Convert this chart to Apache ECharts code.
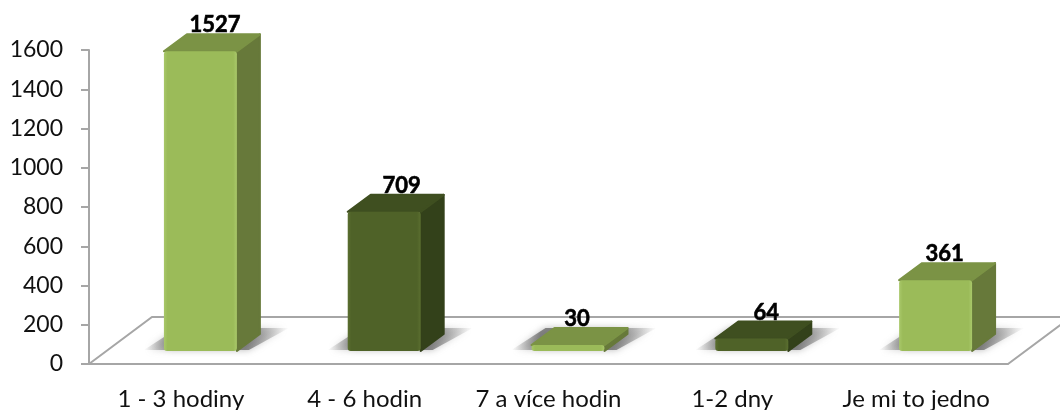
<!DOCTYPE html>
<html>
<head>
    <meta charset="utf-8">
    <title>ECharts</title>
    <script src="https://cdn.jsdelivr.net/npm/echarts@6/dist/echarts.min.js"></script>
    <style>
        html, body { margin: 0; padding: 0; background: #fff; }
    </style>
</head>
<body>
    <div id="main" style="width: 1060px;height:410px;"></div>
    <script type="text/javascript">
        var categories = ['1 - 3 hodiny', '4 - 6 hodin', '7 a více hodin', '1-2 dny', 'Je mi to jedno'];
        var values = [1527, 709, 30, 64, 361];
        var yTicks = [0, 200, 400, 600, 800, 1000, 1200, 1400, 1600];

        // light / dark alternate along the bars
        var palette = [
            { front: '#9bbb59', frontEdge: '#a9c86a', top: '#7b9345', side: '#67793a' },
            { front: '#4f6228', frontEdge: '#5b6f30', top: '#3f4f20', side: '#33411a' }
        ];
        var FONT = 'Lato';
        var DEPTH_X = 23, DEPTH_Y = 17;   // 3d slant of a bar
        var LIFT = 13, SHIFT = 19.5;      // bars stand in the middle of the floor
        var FLOOR_X = 63, FLOOR_Y = 47;
        var labelDx = [34, 37, 28.5, 34, 28.5];   // labels don't sit quite the same on each bar

        function renderFloor(params, api) {
            var c = params.coordSys;
            var bottom = c.y + c.height, right = c.x + c.width;
            return {
                type: 'polyline',
                silent: true,
                shape: {
                    points: [
                        [c.x, bottom],
                        [c.x + FLOOR_X, bottom - FLOOR_Y],
                        [right + FLOOR_X, bottom - FLOOR_Y],
                        [right, bottom]
                    ]
                },
                style: { fill: null, stroke: '#a6a6a6', lineWidth: 2 }
            };
        }

        function renderBar(params, api) {
            var p = api.coord([api.value(0), api.value(1)]);
            var base = api.coord([api.value(0), 0]);
            var w = api.size([1, 0])[0] * 0.397;
            var col = palette[params.dataIndex % 2];
            var l = p[0] + SHIFT - w / 2, r = l + w;
            var t = p[1] - LIFT, b = base[1] - LIFT;
            var dx = DEPTH_X, dy = DEPTH_Y;
            return {
                type: 'group',
                children: [
                    {
                        // soft floor shadow, faded at both ends
                        type: 'polygon',
                        shape: { points: [[l - 20, b - 1], [r + 12, b - 1], [r + 52, b - 23], [l + 14, b - 23]] },
                        style: {
                            fill: new echarts.graphic.LinearGradient(0, 0, 1, 0, [
                                { offset: 0, color: 'rgba(100,100,100,0)' },
                                { offset: 0.2, color: 'rgba(100,100,100,0.75)' },
                                { offset: 0.7, color: 'rgba(100,100,100,0.75)' },
                                { offset: 1, color: 'rgba(100,100,100,0)' }
                            ]),
                            shadowBlur: 7,
                            shadowColor: 'rgba(100,100,100,0.6)'
                        }
                    },
                    {
                        type: 'polygon',
                        shape: { points: [[r, t], [r + dx, t - dy], [r + dx, b - dy], [r, b]] },
                        style: { fill: col.side, stroke: col.side, lineWidth: 2, lineJoin: 'round' }
                    },
                    {
                        type: 'polygon',
                        shape: { points: [[l, t], [l + dx, t - dy], [r + dx, t - dy], [r, t]] },
                        style: { fill: col.top, stroke: col.top, lineWidth: 2, lineJoin: 'round' }
                    },
                    {
                        type: 'rect',
                        shape: { x: l, y: t, width: w, height: b - t, r: 3 },
                        style: {
                            fill: new echarts.graphic.LinearGradient(0, 0, 1, 0, [
                                { offset: 0, color: col.frontEdge },
                                { offset: 0.05, color: col.front },
                                { offset: 0.95, color: col.front },
                                { offset: 1, color: col.frontEdge }
                            ])
                        }
                    },
                    {
                        type: 'text',
                        style: {
                            text: String(api.value(1)),
                            x: p[0] + labelDx[params.dataIndex],
                            y: t - dy + 2,
                            align: 'center',
                            verticalAlign: 'bottom',
                            fontFamily: FONT,
                            fontSize: 22,
                            fontWeight: 'bold',
                            fill: '#000',
                            stroke: '#000',
                            lineWidth: 0.6
                        }
                    }
                ]
            };
        }

        var myChart = echarts.init(document.getElementById('main'));
        var option = {
            animation: false,
            grid: { left: 89, right: 52, top: 50, bottom: 46, outerBoundsMode: 'none' },
            xAxis: {
                type: 'category',
                data: categories,
                axisLine: { lineStyle: { color: '#a6a6a6', width: 2 } },
                axisTick: { length: 8, lineStyle: { color: '#a6a6a6', width: 2 } },
                axisLabel: { interval: 0, hideOverlap: false, margin: 23, fontFamily: FONT, fontSize: 24, color: '#111' }
            },
            yAxis: {
                type: 'value',
                min: yTicks[0],
                max: yTicks[yTicks.length - 1],
                interval: yTicks[1] - yTicks[0],
                splitLine: { show: false },
                axisLine: { show: true, lineStyle: { color: '#a6a6a6', width: 2 } },
                axisTick: { show: true, length: 8, lineStyle: { color: '#a6a6a6', width: 2 } },
                axisLabel: {
                    margin: 26,
                    fontFamily: FONT,
                    fontSize: 23,
                    color: '#111',
                    formatter: function (v) { return String(v); }
                }
            },
            series: [
                {
                    type: 'custom',
                    renderItem: renderFloor,
                    data: [[0, 0]],
                    encode: { x: 0, y: 1 },
                    z: 1
                },
                {
                    type: 'custom',
                    renderItem: renderBar,
                    data: values.map(function (v, i) { return [i, v]; }),
                    encode: { x: 0, y: 1 },
                    z: 2
                }
            ]
        };
        myChart.setOption(option);
    </script>
</body>
</html>
